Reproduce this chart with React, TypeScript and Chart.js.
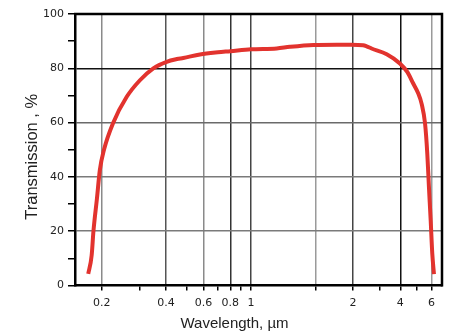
import React, { useEffect, useRef } from 'react';
import { Chart, LogarithmicScale, registerables } from 'chart.js';

// ---- data (wavelength in µm, transmission in %) ----
const WAVELENGTH = [
  0.173, 0.1795, 0.183, 0.19, 0.196, 0.205, 0.226, 0.262, 0.302, 0.349, 0.403,
  0.45, 0.482, 0.577, 0.7, 0.8, 1.0, 1.16, 1.26, 1.48, 1.76, 1.97, 2.35, 2.48,
  2.67, 3.32, 3.98, 4.4, 4.75, 5.05, 5.3, 5.53, 5.69, 5.81, 5.94, 6.06, 6.19,
];
const TRANSMISSION = [
  4.3, 11.1, 20, 32, 42.4, 50, 59.8, 69.5, 75.6, 80.0, 82.4,
  83.4, 83.8, 85.1, 85.9, 86.3, 87.0, 87.3, 87.9, 88.6, 88.7, 88.7, 88.5, 88.1,
  87.3, 85.2, 81.8, 78.6, 74.4, 71.0, 66.8, 59.7, 48.6, 36.3, 24.0, 11.7, 4.2,
];

// ---- axis ticks ----
const X_TICKS = [0.2, 0.3, 0.4, 0.5, 0.6, 0.7, 0.8, 0.9, 1, 1.5, 2, 3, 4, 5, 6];
const X_LABELED = [0.2, 0.4, 0.6, 0.8, 1, 2, 4, 6];
const Y_LABELED = [0, 20, 40, 60, 80, 100];
const X_TITLE = 'Wavelength, µm';
const Y_TITLE = 'Transmission , %';

// The reference axis is logarithmic in position, but its labels above 1 µm
// are spaced unevenly; these breakpoints map label value -> log-position value.
const AXIS_LABEL_BREAKS = [0.1, 1, 2, 10];
const AXIS_POSITION_BREAKS = [0.1, 1, 3, 11];

function mapPiecewise(v: number, from: number[], to: number[]) {
  if (v <= from[0]) return v * (to[0] / from[0]);
  for (let i = 1; i < from.length; i++) {
    if (v <= from[i]) {
      const f = (v - from[i - 1]) / (from[i] - from[i - 1]);
      return to[i - 1] + f * (to[i] - to[i - 1]);
    }
  }
  const n = from.length - 1;
  return to[n] + (v - from[n]) * ((to[n] - to[n - 1]) / (from[n] - from[n - 1]));
}
const warp = (v: number) => mapPiecewise(v, AXIS_LABEL_BREAKS, AXIS_POSITION_BREAKS);
const unwarp = (v: number) => mapPiecewise(v, AXIS_POSITION_BREAKS, AXIS_LABEL_BREAKS);

class WarpedLogScale extends LogarithmicScale {
  static id = 'warpedLog';
  static defaults = { ...(LogarithmicScale as any).defaults };
  configure() {
    super.configure();
    const self = this as any;
    const s = Math.log10(warp(self.min));
    self._startValue = s;
    self._valueRange = Math.log10(warp(self.max)) - s;
  }
  getPixelForValue(value: any) {
    const self = this as any;
    if (value === null || value === undefined || isNaN(value)) return NaN;
    return this.getPixelForDecimal((Math.log10(warp(value)) - self._startValue) / self._valueRange);
  }
  getValueForPixel(pixel: number) {
    const self = this as any;
    const d = this.getDecimalForPixel(pixel);
    return unwarp(Math.pow(10, self._startValue + d * self._valueRange));
  }
}

Chart.register(...registerables, WarpedLogScale);

// ---- styles ----
const X_GRID_COLORS: Record<string, string> = {
  '0.2': '#8a8a8a', '0.4': '#555555', '0.6': '#8a8a8a', '0.8': '#333333', '1': '#444444',
  '1.5': '#9a9a9a', '2': '#444444', '4': '#111111', '6': '#9a9a9a',
};
const Y_GRID_COLORS: Record<string, string> = {
  '20': '#7a7a7a', '40': '#7a7a7a', '60': '#6a6a6a', '80': '#111111', '100': '#000000',
};
const TICK_FONT = { family: '"DejaVu Sans"', size: 11 };

const framePlugin = {
  id: 'frameAndTitles',
  afterDraw(chart: any) {
    const { ctx, chartArea } = chart;
    const { left, top, right, bottom } = chartArea;
    ctx.save();
    ctx.strokeStyle = '#000';
    ctx.lineWidth = 2.5;
    ctx.beginPath();
    ctx.moveTo(left - 1, top);
    ctx.lineTo(right, top);
    ctx.lineTo(right, bottom + 1);
    ctx.stroke();

    ctx.fillStyle = '#222';
    ctx.textAlign = 'center';
    ctx.textBaseline = 'alphabetic';
    ctx.font = '15px "Liberation Sans"';
    ctx.fillText(X_TITLE, (left + right) / 2 - 24, bottom + 42.5);

    ctx.translate(left - 38.5, (top + bottom) / 2 + 7);
    ctx.rotate(-Math.PI / 2);
    ctx.font = '16.5px "Liberation Sans"';
    ctx.fillText(Y_TITLE, 0, 0);
    ctx.restore();
  },
};

export default function App() {
  const ref = useRef<HTMLCanvasElement>(null);
  useEffect(() => {
    document.body.style.margin = '0';
    const points = WAVELENGTH.map((x, i) => ({ x, y: TRANSMISSION[i] }));
    const chart = new Chart(ref.current!, {
      type: 'line',
      data: {
        datasets: [
          {
            data: points,
            borderColor: '#e2332e',
            borderWidth: 4,
            pointRadius: 0,
            cubicInterpolationMode: 'monotone',
            fill: false,
          },
        ],
      },
      options: {
        animation: false,
        responsive: false,
        events: [],
        layout: { padding: { top: 14, right: 18, left: 0, bottom: 0 } },
        plugins: { legend: { display: false }, tooltip: { enabled: false } },
        scales: {
          x: {
            type: 'warpedLog' as any,
            min: 0.15,
            max: 6.84,
            bounds: 'data',
            afterBuildTicks: (s: any) => {
              s.ticks = X_TICKS.map((v) => ({ value: v }));
            },
            afterFit: (s: any) => {
              s.height = 50.5;
            },
            grid: {
              color: (c: any) => (c.tick && X_GRID_COLORS[String(c.tick.value)]) || 'rgba(0,0,0,0)',
              lineWidth: 1.5,
              tickLength: 5,
              tickColor: '#000',
              tickWidth: 1.5,
            },
            border: { color: '#000', width: 2.5 },
            ticks: {
              autoSkip: false,
              maxRotation: 0,
              padding: 6,
              color: '#222',
              font: TICK_FONT,
              callback: (v: any) => (X_LABELED.includes(Number(v)) ? String(v) : ''),
            },
          },
          y: {
            type: 'linear',
            min: 0,
            max: 100,
            afterFit: (s: any) => {
              s.width = 75;
            },
            grid: {
              color: (c: any) => (c.tick && Y_GRID_COLORS[String(c.tick.value)]) || 'rgba(0,0,0,0)',
              lineWidth: 1.5,
              tickLength: 7,
              tickColor: '#000',
              tickWidth: 1.5,
            },
            border: { color: '#000', width: 2.5 },
            ticks: {
              stepSize: 10,
              padding: 4,
              color: '#222',
              font: TICK_FONT,
              callback: (v: any) => (Y_LABELED.includes(Number(v)) ? String(v) : ''),
            },
          },
        },
      },
      plugins: [framePlugin],
    });
    return () => chart.destroy();
  }, []);
  return (
    <div style={{ width: 460, height: 336 }}>
      <canvas ref={ref} width={460} height={336} />
    </div>
  );
}
